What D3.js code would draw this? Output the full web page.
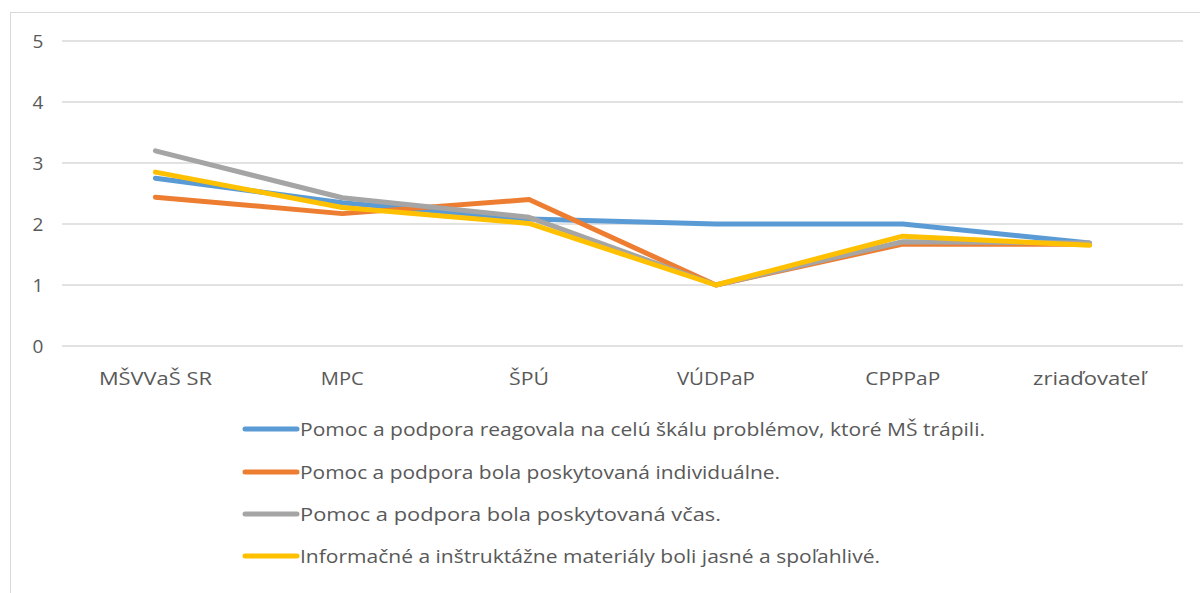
<!DOCTYPE html>
<html><head><meta charset="utf-8">
<script src="https://cdn.jsdelivr.net/npm/d3@7"></script>
<style>body{margin:0;background:#fff}svg{display:block}text{font-family:"Open Sans",sans-serif;fill:#595959}</style>
</head><body><svg id="c" width="1200" height="593"></svg>
<script>
const categories = ["MŠVVaŠ SR","MPC","ŠPÚ","VÚDPaP","CPPPaP","zriaďovateľ"];
const seriesNames = [
  "Pomoc a podpora reagovala na celú škálu problémov, ktoré MŠ trápili.",
  "Pomoc a podpora bola poskytovaná individuálne.",
  "Pomoc a podpora bola poskytovaná včas.",
  "Informačné a inštruktážne materiály boli jasné a spoľahlivé."
];
const blueVals   = [2.75, 2.35, 2.08, 2.0, 2.0, 1.69];
const orangeVals = [2.44, 2.17, 2.40, 1.0, 1.67, 1.67];
const grayVals   = [3.2, 2.43, 2.11, 1.0, 1.71, 1.69];
const yellowVals = [2.85, 2.27, 2.01, 1.0, 1.80, 1.65];
const yTicks = [0,1,2,3,4,5];
const colors = ["#5b9bd5","#ed7d31","#a5a5a5","#ffc000"];
const series = [blueVals, orangeVals, grayVals, yellowVals];
const legendTextWidths = [685, 480, 421, 580];
const categoryLabelWidths = [113, 43, 40, 78, 75, 113];

const svg = d3.select("#c");
svg.append("rect").attr("x",10.5).attr("y",12.5).attr("width",1200).attr("height",600)
  .attr("fill","none").attr("stroke","#d9d9d9");

const x = d3.scaleBand().domain(categories).range([62,1183]);
const y = d3.scaleLinear().domain([0,5]).range([346,41]);

const g = svg.append("g");
yTicks.forEach(t=>{
  g.append("line").attr("x1",62).attr("x2",1183).attr("y1",y(t)).attr("y2",y(t))
   .attr("stroke","#d9d9d9").attr("stroke-width",1.5);
  g.append("text").attr("x",38).attr("y",y(t)).attr("dy","0.35em").attr("text-anchor","middle")
   .attr("font-size",19).text(t);
});
categories.forEach((c,i)=>{
  g.append("text").attr("x",x(c)+x.bandwidth()/2).attr("y",385).attr("text-anchor","middle")
   .attr("font-size",19).attr("textLength",categoryLabelWidths[i]).attr("lengthAdjust","spacingAndGlyphs").text(c);
});
const line = d3.line().x((d,i)=>x(categories[i])+x.bandwidth()/2).y(d=>y(d));
series.forEach((s,k)=>{
  g.append("path").datum(s).attr("d",line).attr("fill","none").attr("stroke",colors[k])
   .attr("stroke-width",5).attr("stroke-linecap","round").attr("stroke-linejoin","round");
});
const legY = [429,472,514,556];
seriesNames.forEach((n,k)=>{
  g.append("line").attr("x1",245).attr("x2",297).attr("y1",legY[k]).attr("y2",legY[k])
   .attr("stroke",colors[k]).attr("stroke-width",5).attr("stroke-linecap","round");
  g.append("text").attr("x",300).attr("y",legY[k]).attr("dy","0.35em").attr("font-size",19)
   .attr("textLength",legendTextWidths[k]).attr("lengthAdjust","spacingAndGlyphs").text(n);
});
</script></body></html>
